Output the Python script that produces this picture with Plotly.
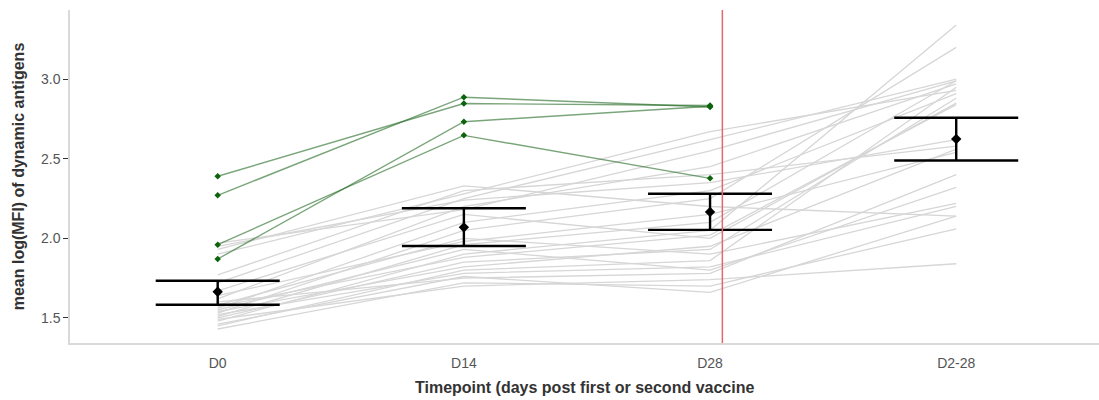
import plotly.graph_objects as go

timepoints = ["D0", "D14", "D28", "D2-28"]

# Per-subject mean log(MFI), grey cohort: D0, D14, D28, D2-28
grey_d0 = [1.43, 1.45, 1.46, 1.48, 1.49, 1.50, 1.51, 1.52, 1.53, 1.54, 1.55, 1.56,
           1.57, 1.58, 1.60, 1.62, 1.64, 1.67, 1.72, 1.77, 1.90, 1.93, 1.95, 1.97]
grey_d14 = [1.72, 1.80, 1.76, 1.90, 1.70, 1.85, 1.96, 1.78, 2.05, 1.82, 1.93, 2.10,
            1.88, 2.00, 1.75, 2.20, 1.98, 2.15, 2.25, 2.30, 2.28, 2.33, 2.24, 2.18]
grey_d28 = [1.70, 1.86, 1.66, 2.05, 1.74, 1.93, 2.10, 1.82, 2.25, 1.95, 1.80, 2.30,
            2.02, 1.90, 1.78, 2.45, 2.15, 2.00, 2.62, 2.40, 2.67, 2.20, 2.35, 2.55]
grey_d228 = [2.06, 2.95, 2.14, 3.34, 1.84, 2.88, 2.99, 2.20, 3.20, 2.56, 2.32, 2.91,
             2.84, 2.22, 2.40, 2.97, 2.54, 2.85, 3.00, 2.58, 2.93, 2.14, 2.62, 2.99]

# Highlighted subjects (D0, D14, D28 only)
green_d0 = [2.39, 2.27, 1.96, 1.87]
green_d14 = [2.847, 2.887, 2.647, 2.733]
green_d28 = [2.835, 2.825, 2.377, 2.830]

# Group means with interval bounds
mean_vals = [1.664, 2.069, 2.166, 2.624]
upper_vals = [1.733, 2.189, 2.280, 2.758]
lower_vals = [1.582, 1.952, 2.053, 2.489]

boundary_x = 2.05

fig = go.Figure()

xs = list(range(len(timepoints)))

for i in range(len(grey_d0)):
    fig.add_trace(go.Scatter(
        x=xs, y=[grey_d0[i], grey_d14[i], grey_d28[i], grey_d228[i]],
        mode="lines", line=dict(color="#d6d6d6", width=1.3),
        hoverinfo="skip", showlegend=False))

for i in range(len(green_d0)):
    fig.add_trace(go.Scatter(
        x=xs[:3], y=[green_d0[i], green_d14[i], green_d28[i]],
        mode="lines", line=dict(color="rgba(40,110,40,0.62)", width=1.4),
        hoverinfo="skip", showlegend=False))
for i in range(len(green_d0)):
    fig.add_trace(go.Scatter(
        x=xs[:3], y=[green_d0[i], green_d14[i], green_d28[i]],
        mode="markers", marker=dict(color="#0b630b", size=5, symbol="diamond"),
        hoverinfo="skip", showlegend=False))

fig.add_trace(go.Scatter(
    x=xs, y=mean_vals, mode="markers",
    marker=dict(color="black", size=8, symbol="diamond"),
    error_y=dict(type="data", symmetric=False,
                 array=[u - m for u, m in zip(upper_vals, mean_vals)],
                 arrayminus=[m - l for m, l in zip(mean_vals, lower_vals)],
                 color="black", thickness=2.4, width=62),
    showlegend=False))

fig.add_shape(type="line", xref="x", yref="paper", x0=boundary_x, x1=boundary_x,
              y0=0, y1=1, line=dict(color="#e06a6a", width=1.5))

fig.add_annotation(text="Timepoint (days post first or second vaccine",
                   xref="paper", yref="paper", x=0.5, y=0, yshift=-44,
                   showarrow=False, yanchor="middle",
                   font=dict(family="Liberation Sans", size=16, color="#333333",
                             weight="bold"))

fig.update_layout(
    width=1099, height=400,
    margin=dict(l=70, r=0, t=10, b=57),
    plot_bgcolor="white", paper_bgcolor="white",
    font=dict(family="Liberation Sans"),
    xaxis=dict(range=[-0.6, 3.58], tickvals=xs, ticktext=timepoints,
               showgrid=False, zeroline=False, showline=True,
               linecolor="#d9d9d9", linewidth=1.5, ticks="",
               ticklabelstandoff=6,
               tickfont=dict(size=14, color="#555555")),
    yaxis=dict(range=[1.342, 3.435], tickvals=[1.5, 2.0, 2.5, 3.0],
               ticktext=["1.5", "2.0", "2.5", "3.0"],
               showgrid=False, zeroline=False, showline=True,
               linecolor="#d9d9d9", linewidth=1.5,
               ticks="outside", ticklen=5, tickcolor="#333333", tickwidth=1.2,
               tickfont=dict(size=14, color="#555555"),
               title=dict(text="mean log(MFI) of dynamic antigens", standoff=12,
                          font=dict(size=16, color="#333333", weight="bold"))),
)

fig.write_html("out.html")
